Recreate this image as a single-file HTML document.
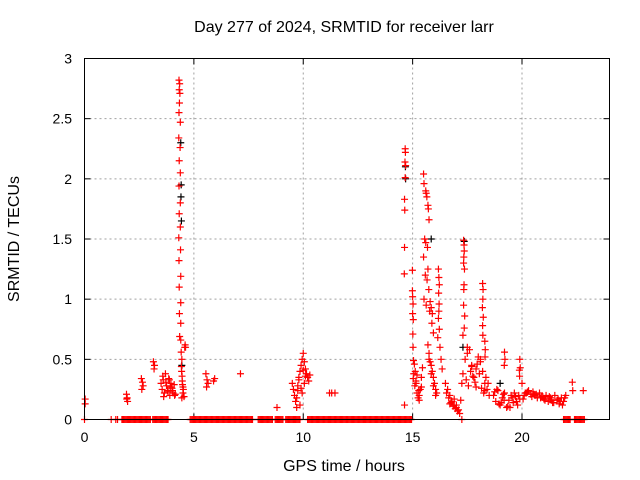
<!DOCTYPE html>
<html><head><meta charset="utf-8"><style>
body{margin:0;background:#fff;}
svg{display:block;font-family:"Liberation Sans",sans-serif;}
</style></head><body>
<svg id="chart" width="640" height="480" viewBox="0 0 640 480">
<text x="344" y="32" font-size="16" text-anchor="middle">Day 277 of 2024, SRMTID for receiver larr</text>
<g id="grid"></g>
<g id="ticks"></g>
<g id="marks"></g>
<rect x="84.5" y="58.5" width="525" height="361" fill="none" stroke="#000" stroke-width="1"/>
<text x="344" y="471" font-size="16" text-anchor="middle">GPS time / hours</text>
<text transform="translate(19,239) rotate(-90)" font-size="16" text-anchor="middle">SRMTID / TECUs</text>
</svg>
<script>
const xTicks=[0,5,10,15,20];
const yTicks=[0,0.5,1,1.5,2,2.5,3];
const yTickLabels=["0","0.5","1","1.5","2","2.5","3"];
const zeroRunStart=[0.0,1.22,1.43,1.51,1.71,3.12,4.83,7.94,8.72,9.2,10.2,17.25,21.9,22.4];
const zeroRunEnd=[0.0,1.22,1.43,1.51,3.05,3.84,7.71,8.62,9.1,9.86,14.98,17.25,22.2,22.85];
const redT=[0.03,0.03,1.92,1.95,1.97,1.93,2.6,2.65,2.68,2.62,3.15,3.2,3.18,
3.5,3.55,3.6,3.65,3.7,3.75,3.8,3.85,3.9,3.95,4.0,4.05,4.1,4.15,3.62,3.72,3.82,3.92,4.02,4.12,3.58,3.88,
4.32,4.35,4.33,4.36,4.34,4.32,4.38,4.31,4.37,4.33,4.38,4.32,4.38,4.33,4.38,4.31,4.39,4.32,4.4,4.33,4.4,4.34,4.4,4.35,4.4,4.42,4.45,4.43,4.46,4.48,4.5,4.44,4.47,4.52,4.55,4.58,4.6,4.62,4.5,4.45,
5.55,5.6,5.65,5.58,5.9,5.95,7.13,8.8,
9.5,9.55,9.6,9.65,9.7,9.75,9.8,9.85,9.9,9.95,10.0,10.05,10.1,10.15,10.2,10.25,10.3,9.7,9.8,9.9,10.0,10.1,9.95,10.05,9.85,9.75,
11.2,11.3,11.45,
14.66,14.67,14.65,14.68,14.66,14.63,14.64,14.63,14.62,14.63,14.99,14.99,15.0,15.02,15.0,15.03,15.01,15.02,15.04,15.05,15.03,
15.08,15.12,15.16,15.2,15.25,15.3,15.35,15.4,15.45,15.1,15.2,15.3,15.4,15.15,15.28,
15.5,15.52,15.6,15.62,15.65,15.7,15.72,15.75,15.55,15.6,15.68,15.5,15.58,15.66,15.74,15.8,15.85,15.9,15.52,15.62,15.7,15.78,15.88,15.95,
15.7,15.75,15.8,15.85,15.9,15.95,16.0,16.05,16.1,15.75,15.85,15.95,16.05,
16.18,16.2,16.22,16.19,16.21,16.2,16.18,16.22,16.15,16.25,16.3,16.35,
16.5,16.6,16.7,16.8,16.9,17.0,17.1,17.15,16.55,16.65,16.75,16.85,16.95,17.05,17.2,16.7,16.9,17.0,
17.33,17.35,17.36,17.34,17.33,17.37,17.35,17.34,17.33,17.38,17.36,17.3,
17.25,17.3,17.4,17.5,17.6,17.7,17.8,17.9,18.0,18.1,18.2,18.3,18.4,18.5,17.45,17.55,17.65,17.75,17.85,17.95,18.05,18.15,18.25,18.35,18.45,17.5,17.7,17.9,18.1,18.3,
18.2,18.22,18.21,18.19,18.23,18.2,18.21,18.3,18.32,18.31,
18.7,18.8,18.9,19.0,19.1,19.2,19.3,19.4,19.5,19.6,19.7,19.8,19.9,18.75,18.95,19.15,19.35,19.55,19.75,18.85,19.05,19.45,19.65,19.85,
19.18,19.2,19.22,19.19,19.88,19.9,19.92,19.89,
20.0,20.1,20.2,20.3,20.4,20.5,20.6,20.7,20.8,20.9,21.0,21.1,21.2,21.3,21.4,21.5,21.6,21.7,21.8,21.9,22.0,20.05,20.25,20.45,20.65,20.85,21.05,21.25,21.45,21.65,21.85,20.15,20.55,20.95,21.35,21.75,21.95,
22.3,22.32,22.8];
const redV=[0.17,0.13,0.21,0.18,0.15,0.17,0.34,0.31,0.28,0.25,0.48,0.45,0.42,
0.3,0.25,0.33,0.22,0.38,0.28,0.24,0.34,0.2,0.3,0.26,0.22,0.29,0.21,0.19,0.31,0.23,0.27,0.24,0.2,0.36,0.33,
2.82,2.79,2.74,2.71,2.63,2.55,2.47,2.34,2.26,2.15,2.05,1.94,1.8,1.71,1.6,1.51,1.41,1.32,1.19,1.1,0.97,0.88,0.8,0.69,0.66,0.56,0.5,0.44,0.36,0.29,0.22,0.4,0.32,0.25,0.19,0.6,0.62,0.6,0.27,0.18,
0.38,0.33,0.3,0.27,0.32,0.34,0.38,0.1,
0.3,0.25,0.2,0.15,0.1,0.28,0.35,0.4,0.45,0.5,0.55,0.48,0.42,0.38,0.35,0.32,0.37,0.18,0.33,0.26,0.41,0.36,0.22,0.3,0.12,0.24,
0.22,0.22,0.22,
2.25,2.22,2.14,2.11,2.01,1.83,1.74,1.43,1.21,0.12,1.24,1.07,1.02,0.96,0.88,0.83,0.71,0.6,0.49,0.38,0.34,
0.46,0.4,0.3,0.22,0.18,0.16,0.25,0.35,0.43,0.28,0.37,0.2,0.27,0.32,0.24,
2.04,1.96,1.9,1.88,1.85,1.78,1.75,1.66,1.5,1.47,1.43,1.35,1.2,1.16,1.08,0.98,0.93,0.88,1.0,0.95,1.25,0.9,0.8,0.72,
0.62,0.55,0.48,0.45,0.4,0.35,0.3,0.25,0.22,0.5,0.38,0.28,0.2,
1.25,1.18,1.12,1.05,0.96,0.9,0.84,0.75,0.68,0.6,0.5,0.42,
0.3,0.25,0.2,0.15,0.12,0.1,0.08,0.05,0.22,0.18,0.14,0.11,0.09,0.07,0.16,0.13,0.17,0.12,
1.49,1.45,1.4,1.35,1.3,1.25,1.12,1.08,0.95,0.86,0.76,0.7,
0.3,0.38,0.5,0.55,0.58,0.45,0.35,0.42,0.52,0.48,0.4,0.3,0.25,0.2,0.33,0.28,0.4,0.36,0.31,0.46,0.38,0.26,0.22,0.35,0.3,0.6,0.44,0.27,0.5,0.24,
1.13,1.08,1.0,0.93,0.85,0.78,0.7,0.65,0.58,0.52,
0.2,0.15,0.24,0.12,0.18,0.22,0.1,0.16,0.2,0.14,0.19,0.12,0.17,0.23,0.13,0.21,0.11,0.18,0.15,0.25,0.14,0.1,0.22,0.2,0.16,
0.56,0.5,0.45,0.41,0.5,0.43,0.36,0.3,
0.2,0.22,0.24,0.21,0.23,0.2,0.18,0.22,0.19,0.17,0.2,0.15,0.18,0.14,0.2,0.16,0.13,0.18,0.15,0.2,0.17,0.23,0.19,0.21,0.18,0.16,0.19,0.14,0.17,0.12,0.22,0.21,0.19,0.16,0.15,0.18,
0.31,0.24,0.24];
const blackT=[4.42,4.4,4.43,4.41,4.45,14.68,14.67,15.85,17.36,17.3,19.0];
const blackV=[1.95,2.3,1.65,1.85,0.45,2.0,2.1,1.5,1.48,0.6,0.3];

const X0=84.5,X1=609.5,Y0=419.5,Y1=58.5;
function xs(h){return X0+(h/24)*(X1-X0);}
function ys(v){return Y0-(v/3)*(Y0-Y1);}
const NS="http://www.w3.org/2000/svg";
const grid=document.getElementById('grid'),ticks=document.getElementById('ticks'),marks=document.getElementById('marks');
function mk(tag,attrs,parent){const e=document.createElementNS(NS,tag);for(const k in attrs)e.setAttribute(k,attrs[k]);parent.appendChild(e);return e;}
xTicks.forEach((t,i)=>{
 const x=xs(t);
 if(i>0){const g=mk('line',{x1:x,x2:x,y1:Y0,y2:Y1,stroke:'#a0a0a0','stroke-dasharray':'2,3','stroke-width':1},grid);
 
 }
 const l=mk('text',{x:x,y:442,'font-size':14,'text-anchor':'middle'},ticks);l.textContent=String(t);
 
 
 mk('line',{x1:x,x2:x,y1:Y0,y2:Y0-6,stroke:'#000'},ticks);mk('line',{x1:x,x2:x,y1:Y1,y2:Y1+6,stroke:'#000'},ticks);
});
yTicks.forEach((t,i)=>{
 const y=ys(t);
 if(i>0&&i<yTicks.length-1){const g=mk('line',{x1:X0,x2:X1,y1:y,y2:y,stroke:'#a0a0a0','stroke-dasharray':'2,3','stroke-width':1},grid);
 
 }
 const l=mk('text',{x:72,y:y+5,'font-size':14,'text-anchor':'end'},ticks);l.textContent=yTickLabels[i];
 
 
 mk('line',{x1:X0,x2:X0+6,y1:y,y2:y,stroke:'#000'},ticks);mk('line',{x1:X1,x2:X1-6,y1:y,y2:y,stroke:'#000'},ticks);
});
function plus(t,v,color){
 const x=xs(t),y=ys(v);
 const p=mk('path',{d:`M${x-3.5},${y}H${x+3.5}M${x},${y-3.5}V${y+3.5}`,stroke:color,'stroke-width':1.2,fill:'none'},marks);
 
 
}
zeroRunStart.forEach((s,i)=>{for(let t=s;t<=zeroRunEnd[i]+1e-9;t+=0.05)plus(t,0,'#ff0000');});
blackT.forEach((t,i)=>plus(t,blackV[i],'#000000'));
redT.forEach((t,i)=>plus(t,redV[i],'#ff0000'));
</script>
</body></html>
